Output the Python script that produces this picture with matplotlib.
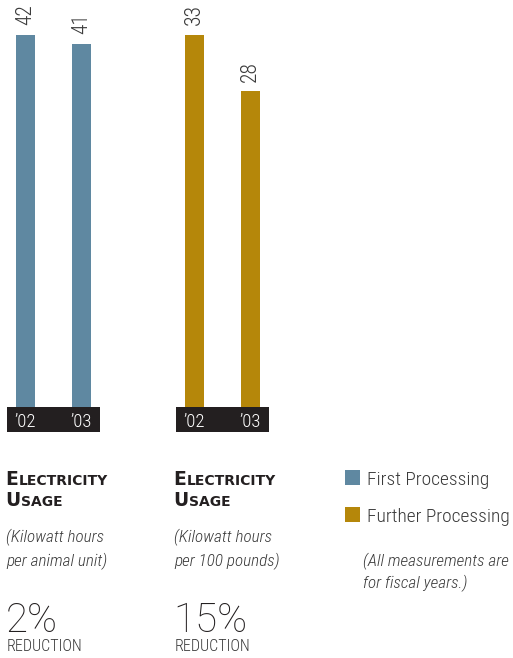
"""
Electricity usage chart: two bar groups with small-caps headings and a legend.
"""
import matplotlib
matplotlib.use("Agg")
import matplotlib.pyplot as plt
from matplotlib import font_manager
from matplotlib.patches import Rectangle

# data
years = ["\u201902", "\u201903"]
first_processing = [42, 41]      # kWh per animal unit
further_processing = [33, 28]    # kWh per 100 pounds
reductions = ["2%", "15%"]
units = [["(Kilowatt hours", "per animal unit)"],
         ["(Kilowatt hours", "per 100 pounds)"]]
series_names = ["First Processing", "Further Processing"]

BLUE = "#5F88A1"
GOLD = "#B5870A"
BAND = "#231F20"
TEXT = "#231F20"
GREY = "#3A3A3A"

W, H = 513, 658
HEAVY = "DejaVu Sans"


def _narrow_font():
    """Pick a condensed sans face if one is installed, else plain Roboto."""
    fonts = font_manager.fontManager.ttflist
    for pref in ["Roboto Condensed", "Liberation Sans Narrow", "Open Sans Condensed",
                 "Noto Sans Condensed", "DejaVu Sans Condensed"]:
        if any(f.name == pref for f in fonts):
            return pref, "normal"
    for pref in ["Roboto", "Noto Sans", "Open Sans", "DejaVu Sans", "Liberation Sans"]:
        if any(f.name == pref and f.stretch in ("condensed", "semi-condensed")
               for f in fonts):
            return pref, "condensed"
    return "Roboto", "normal"


NARROW, STRETCH = _narrow_font()
NF = dict(family=NARROW, fontstretch=STRETCH, fontweight="light")

fig = plt.figure(figsize=(W / 100, H / 100), dpi=100)
fig.patch.set_facecolor("white")


def fx(x):
    return x / W


def fy(y):
    return 1 - y / H


def bar_group(left, values, color):
    """One group of two bars sitting on a dark year band."""
    top, bottom = 35, 432
    band_px = 25
    ax = fig.add_axes([fx(left), fy(bottom), 93 / W, (bottom - top) / H])
    vmax = max(values)
    band = band_px * vmax / (bottom - top - band_px)
    ax.set_ylim(-band, vmax)
    ax.set_xlim(-0.33, 1.33)
    ax.axhspan(-band, 0, color=BAND, lw=0)
    ax.bar(range(len(values)), values, width=0.34, color=color, lw=0)
    for i, v in enumerate(values):
        ax.annotate(str(v), (i, v), xytext=(0, 7), textcoords="offset points",
                    rotation=90, ha="center", va="bottom", fontsize=15.5,
                    color=GREY, annotation_clip=False, **NF)
        ax.text(i, -band * 0.8, years[i], ha="center", va="baseline",
                fontsize=13.5, color="white", **NF)
    ax.axis("off")
    return ax


def small_caps(x, y, word, big=13.5, small=10):
    """Heavy small-caps heading: first letter full size, the rest smaller."""
    t = fig.text(fx(x), fy(y), word[0], fontsize=big, fontweight="heavy",
                 family=HEAVY, color=TEXT, va="baseline")
    r = fig.canvas.get_renderer()
    bb = t.get_window_extent(r)
    fig.text(bb.x1 / fig.dpi / fig.get_figwidth() + 0.5 / W, fy(y), word[1:].upper(),
             fontsize=small, fontweight="heavy", family=HEAVY, color=TEXT,
             va="baseline")


bar_group(7, first_processing, BLUE)
bar_group(176, further_processing, GOLD)

# headings, units and reductions under each group
for x, unit, red in zip([7, 175], units, reductions):
    small_caps(x - 1.5, 485, "Electricity")
    small_caps(x - 1.5, 505.5, "Usage")
    fig.text(fx(x - 1), fy(542), unit[0], fontsize=12.3, style="italic",
             color=GREY, va="baseline", **NF)
    fig.text(fx(x - 1), fy(566), unit[1], fontsize=12.3, style="italic",
             color=GREY, va="baseline", **NF)
    fig.text(fx(x - 1.5), fy(631.5), red, fontsize=29, family="Roboto",
             fontweight="light", color=TEXT, va="baseline")
    fig.text(fx(x), fy(651), "REDUCTION", fontsize=11.5,
             color=GREY, va="baseline", **NF)

# legend
for (ytop, base), name, color in zip([(470, 485), (507, 522)], series_names, [BLUE, GOLD]):
    fig.patches.append(Rectangle((fx(345), fy(ytop + 14.5)), 15 / W, 14.5 / H,
                                 transform=fig.transFigure, color=color, lw=0))
    fig.text(fx(367), fy(base), name, fontsize=14,
             color=GREY, va="baseline", **NF)

fig.text(fx(363), fy(566), "(All measurements are", fontsize=12.3, style="italic",
         color=GREY, va="baseline", **NF)
fig.text(fx(363), fy(588), "for fiscal years.)", fontsize=12.3, style="italic",
         color=GREY, va="baseline", **NF)

fig.savefig("out.png", dpi=100, facecolor="white")
